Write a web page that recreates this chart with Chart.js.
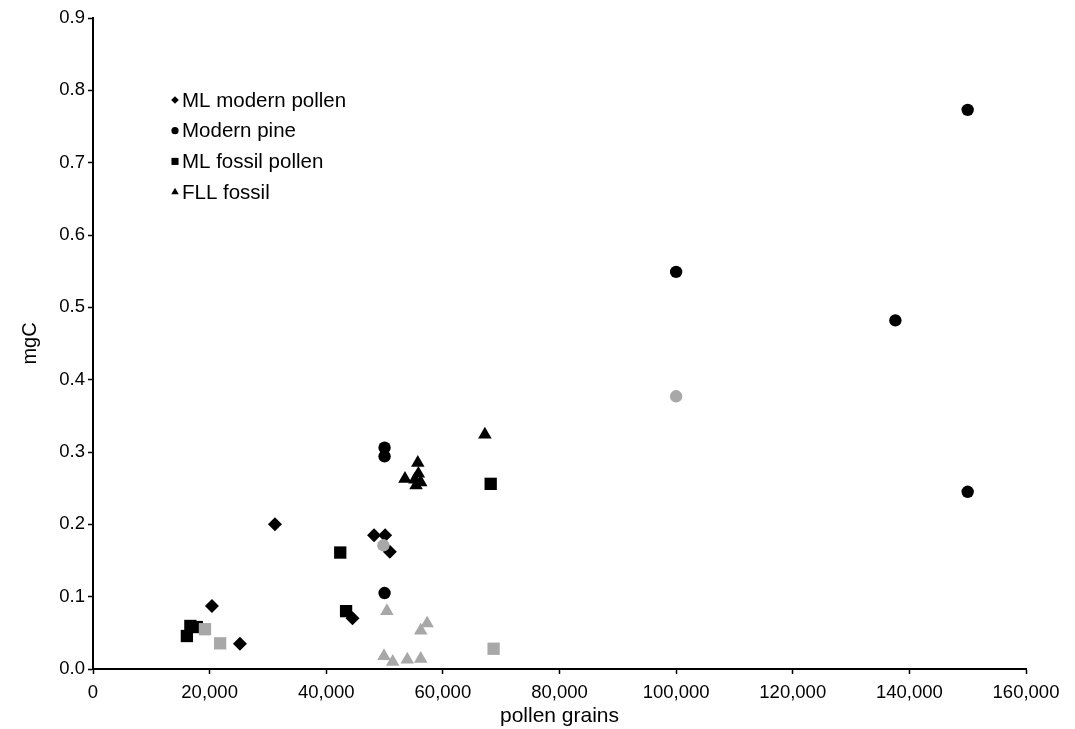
<!DOCTYPE html>
<html>
<head>
<meta charset="utf-8">
<script src="https://cdn.jsdelivr.net/npm/chart.js@4.4.1/dist/chart.umd.min.js"></script>
<style>
  html, body { margin: 0; padding: 0; background: #ffffff; }
  canvas { display: block; }
</style>
</head>
<body>
<canvas id="c" width="1075" height="729"></canvas>
<script>
// ---- data ----
const seriesNames = ["ML modern pollen", "Modern pine", "ML fossil pollen", "FLL fossil"];

const mlModernX = [31200, 20400, 25200, 48200, 50100, 50900, 44500];
const mlModernY = [0.200, 0.087, 0.035, 0.185, 0.185, 0.162, 0.070];

const pineX = [150000, 100000, 137600, 150000, 50000, 50000, 50000];
const pineY = [0.773, 0.549, 0.482, 0.245, 0.306, 0.294, 0.105];

const mlFossilX = [42400, 16700, 16100, 17800, 43400, 68200];
const mlFossilY = [0.161, 0.0595, 0.0456, 0.058, 0.080, 0.256];

const fllX = [67200, 53500, 55700, 55800, 55200, 56200, 55400];
const fllY = [0.324, 0.263, 0.285, 0.270, 0.262, 0.258, 0.254];

// grey (unlabelled) points
const pineGreyX = [100000, 49800];
const pineGreyY = [0.377, 0.171];

const mlFossilGreyX = [19200, 21800, 68700];
const mlFossilGreyY = [0.055, 0.0355, 0.028];

const fllGreyX = [50400, 57300, 56200, 49900, 51400, 53900, 56200];
const fllGreyY = [0.080, 0.063, 0.053, 0.018, 0.010, 0.013, 0.014];

const xTicks = [0, 20000, 40000, 60000, 80000, 100000, 120000, 140000, 160000];
const yTicks = [0, 0.1, 0.2, 0.3, 0.4, 0.5, 0.6, 0.7, 0.8, 0.9];

const xTitle = "pollen grains";
const yTitle = "mgC";

// ---- build ----
function pts(xs, ys) { return xs.map((x, i) => ({ x: x, y: ys[i] })); }

const BLACK = "#000000";
const GREY = "#a8a8a8";
const FONT = "'Liberation Sans', Arial, Helvetica, sans-serif";

function ds(label, xs, ys, style, radius, color, inLegend) {
  return {
    label: label,
    data: pts(xs, ys),
    pointStyle: style,
    pointRadius: radius,
    pointHoverRadius: radius,
    backgroundColor: color,
    borderColor: color,
    pointBorderWidth: 0,
    borderWidth: 0,
    showLine: false,
    order: color === GREY ? 0 : 1,
    inLegend: inLegend
  };
}

const datasets = [
  ds(seriesNames[0], mlModernX, mlModernY, "rectRot", 7, BLACK, true),
  ds(seriesNames[1], pineX, pineY, "circle", 6.2, BLACK, true),
  ds(seriesNames[2], mlFossilX, mlFossilY, "rect", 8.7, BLACK, true),
  ds(seriesNames[3], fllX, fllY, "triangle", 7.8, BLACK, true),
  ds("", pineGreyX, pineGreyY, "circle", 6.2, GREY, false),
  ds("", mlFossilGreyX, mlFossilGreyY, "rect", 8.7, GREY, false),
  ds("", fllGreyX, fllGreyY, "triangle", 7.8, GREY, false)
];

const legendSizes = { rectRot: 3.8, circle: 3.6, rect: 5.0, triangle: 4.3 };

const insideLegend = {
  id: "insideLegend",
  afterDatasetsDraw(chart) {
    const ctx = chart.ctx;
    const area = chart.chartArea;
    const mx = area.left + 82;
    const tx = area.left + 89;
    let y = area.top + 82;
    ctx.save();
    ctx.font = "20.5px " + FONT;
    ctx.textBaseline = "middle";
    ctx.textAlign = "left";
    chart.data.datasets.forEach(d => {
      if (!d.inLegend) return;
      ctx.fillStyle = BLACK;
      Chart.helpers.drawPoint(ctx, {
        pointStyle: d.pointStyle,
        radius: legendSizes[d.pointStyle],
        rotation: 0,
        borderWidth: 0
      }, mx, y);
      ctx.fillStyle = BLACK;
      ctx.fillText(d.label, tx, y + 1);
      y += 30.7;
    });
    ctx.restore();
  }
};

new Chart(document.getElementById("c"), {
  type: "scatter",
  data: { datasets: datasets },
  plugins: [insideLegend],
  options: {
    responsive: false,
    animation: false,
    events: [],
    layout: { padding: { top: 18, right: 49, left: 0, bottom: 0 } },
    plugins: {
      legend: { display: false },
      tooltip: { enabled: false },
      title: { display: false }
    },
    scales: {
      x: {
        type: "linear",
        min: xTicks[0],
        max: xTicks[xTicks.length - 1],
        afterBuildTicks: s => { s.ticks = xTicks.map(v => ({ value: v })); },
        afterFit: s => { s.height = 60; },
        ticks: {
          color: BLACK,
          font: { family: FONT, size: 18.5 },
          padding: 8,
          maxRotation: 0,
          autoSkip: false,
          callback: v => Number(v).toLocaleString("en-US")
        },
        grid: {
          drawOnChartArea: false,
          drawTicks: true,
          tickLength: 5,
          tickColor: BLACK,
          tickWidth: 1.5
        },
        border: { color: BLACK, width: 2 },
        title: {
          display: true,
          text: xTitle,
          color: BLACK,
          font: { family: FONT, size: 21 },
          padding: { top: 0, bottom: 0 }
        }
      },
      y: {
        type: "linear",
        min: yTicks[0],
        max: yTicks[yTicks.length - 1],
        afterBuildTicks: s => { s.ticks = yTicks.map(v => ({ value: v })); },
        afterFit: s => { s.width = 93; },
        ticks: {
          color: BLACK,
          font: { family: FONT, size: 18.5 },
          padding: 3,
          autoSkip: false,
          callback: v => Number(v).toFixed(1)
        },
        grid: {
          drawOnChartArea: false,
          drawTicks: true,
          tickLength: 5,
          tickColor: BLACK,
          tickWidth: 1.5
        },
        border: { color: BLACK, width: 2 },
        title: {
          display: true,
          text: yTitle,
          color: BLACK,
          font: { family: FONT, size: 20 },
          padding: { top: 18, bottom: 0 }
        }
      }
    }
  }
});
</script>
</body>
</html>
